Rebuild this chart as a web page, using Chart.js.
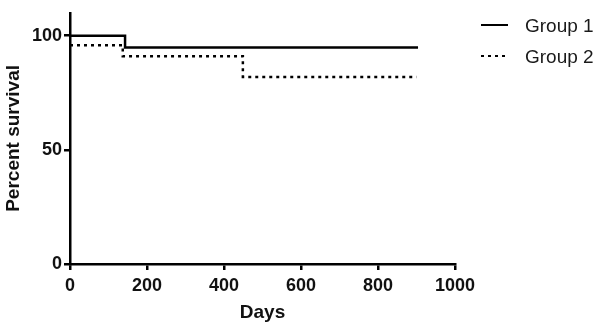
<!doctype html>
<html lang="en">

<head>
  <meta charset="utf-8">
  <script src="https://cdn.jsdelivr.net/npm/chart.js@4.4.1/dist/chart.umd.min.js"></script>
  <title>Survival</title>
  <style>
    html, body { margin: 0; padding: 0; background: #fff; }
    #wrap { width: 600px; height: 326px; }
  </style>
</head>

<body>
  <div id="wrap"><canvas id="myChart"></canvas></div>
  <script>
    // step curves: [days, percent]
    const group1Days = [0, 143, 143, 904];
    const group1Pct = [100, 100, 94.8, 94.8];
    const group2Days = [0, 137, 137, 449, 449, 900];
    const group2Pct = [95.8, 95.8, 91, 91, 81.9, 81.9];
    const seriesNames = ['Group 1', 'Group 2'];
    const xTicks = [0, 200, 400, 600, 800, 1000];
    const yTicks = [0, 50, 100];

    const toPoints = (xs, ys) => xs.map((x, i) => ({ x: x, y: ys[i] }));
    const FONT = '"Liberation Sans", Arial, sans-serif';

    // legend on the right, drawn like the original (line sample + label)
    const sideLegend = {
      id: 'sideLegend',
      afterDraw(chart) {
        const ctx = chart.ctx;
        chart.data.datasets.forEach((ds, i) => {
          const y = 25 + i * 31;
          ctx.save();
          ctx.strokeStyle = '#000';
          ctx.lineWidth = 2;
          ctx.setLineDash(ds.borderDash || []);
          ctx.beginPath();
          ctx.moveTo(481, y);
          ctx.lineTo(508, y);
          ctx.stroke();
          ctx.setLineDash([]);
          ctx.fillStyle = '#1a1a1a';
          ctx.font = '19px ' + FONT;
          ctx.textBaseline = 'middle';
          ctx.fillText(ds.label, 525, y + 2);
          ctx.restore();
        });
      }
    };

    const config = {
      type: 'line',
      data: {
        datasets: [{
          label: seriesNames[0],
          data: toPoints(group1Days, group1Pct),
          borderColor: '#000',
          borderWidth: 2.5,
          pointRadius: 0,
          fill: false
        }, {
          label: seriesNames[1],
          data: toPoints(group2Days, group2Pct),
          borderColor: '#000',
          borderWidth: 2.5,
          borderDash: [3, 4],
          pointRadius: 0,
          fill: false
        }]
      },
      options: {
        responsive: true,
        maintainAspectRatio: false,
        animation: false,
        layout: { padding: { top: 9, right: 145, left: 0, bottom: 0 } },
        plugins: {
          legend: { display: false },
          tooltip: { enabled: false }
        },
        scales: {
          x: {
            type: 'linear',
            min: 0,
            max: 1000,
            afterBuildTicks: s => { s.ticks = xTicks.map(v => ({ value: v })); },
            afterFit: s => { s.height = 62; },
            border: { color: '#000', width: 2.5 },
            grid: { drawOnChartArea: false, color: '#000', lineWidth: 2.5, tickLength: 6 },
            ticks: {
              color: '#111',
              padding: 5,
              callback: v => String(v),
              font: { family: FONT, size: 18, weight: 'bold' }
            },
            title: {
              display: true,
              text: 'Days',
              color: '#111',
              padding: { top: 0, bottom: 2 },
              font: { family: FONT, size: 19, weight: 'bold' }
            }
          },
          y: {
            type: 'linear',
            min: 0,
            max: 110,
            afterBuildTicks: s => { s.ticks = yTicks.map(v => ({ value: v })); },
            afterFit: s => { s.width = 70; },
            border: { color: '#000', width: 2.5 },
            grid: { drawOnChartArea: false, color: '#000', lineWidth: 2.5, tickLength: 6 },
            ticks: {
              color: '#111',
              padding: 2,
              callback: v => String(v),
              font: { family: FONT, size: 18, weight: 'bold' }
            },
            title: {
              display: true,
              text: 'Percent survival',
              color: '#111',
              padding: { top: 2, bottom: 0 },
              font: { family: FONT, size: 19, weight: 'bold' }
            }
          }
        }
      },
      plugins: [sideLegend]
    };

    new Chart(document.getElementById('myChart').getContext('2d'), config);
  </script>
</body>

</html>
